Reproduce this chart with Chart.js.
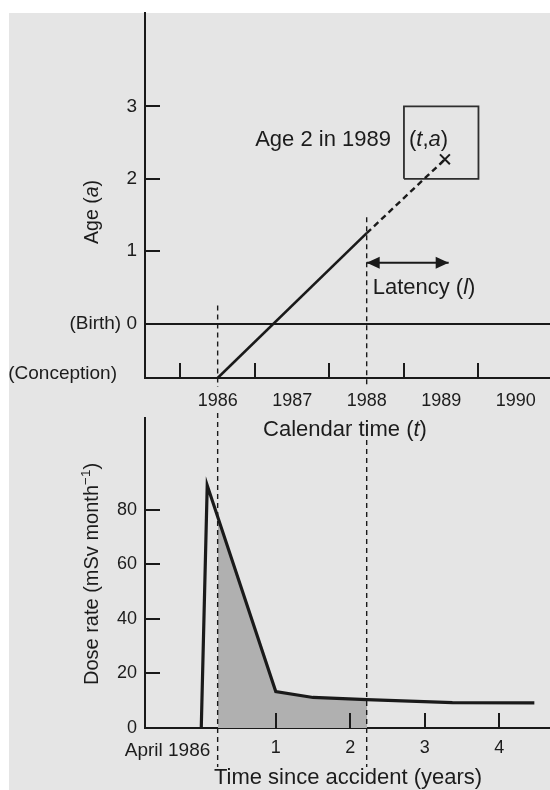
<!DOCTYPE html>
<html><head><meta charset="utf-8">
<script src="https://cdn.jsdelivr.net/npm/chart.js@4.4.1/dist/chart.umd.min.js"></script>
<style>
html,body{margin:0;padding:0;background:#fff;}
#page{position:absolute;left:0;top:0;width:550px;height:790px;overflow:hidden;background:#fff;}
#paper{position:absolute;left:9px;top:13px;right:0;bottom:0;background:#e5e5e5;}
#w1{position:absolute;left:0;top:-8px;width:600px;height:453px;}
#w2{position:absolute;left:0;top:398px;width:600px;height:392px;}
canvas{display:block;}
</style></head><body>
<div id="page"><div id="paper"></div>
<div id="w1"><canvas id="c1" width="600" height="453"></canvas></div>
<div id="w2"><canvas id="c2" width="600" height="392"></canvas></div>
</div>
<script>
// ---------------- data ----------------
const calendarYears = [1986, 1987, 1988, 1989, 1990];
const calendarLabels = ['1986', '1987', '1988', '1989', '1990'];
const ageTicks = [-0.75, 0, 1, 2, 3];
const ageLabels = ['(Conception)', '(Birth) 0', '1', '2', '3'];
const cohortTime = [1986.5, 1988.5, 1989.55];
const cohortAge = [-0.75, 1.25, 2.27];
const boxYears = [1989, 1990];
const boxAges = [2, 3];
const latencyYears = [1988.5, 1989.6];
const latencyAge = [0.84];
const exposureWindow = [1986.5, 1988.5];
const windowTopAge = [0.25, 1.47];

const accidentYear = 1986.28;
const doseTime = [0, 0.08, 1.0, 1.5, 2.22, 3.37, 4.47];
const doseRate = [0, 89, 13.4, 11.2, 10.4, 9.3, 9.2];
const doseTicks = [0, 20, 40, 60, 80];
const timeTicks = [0, 1, 2, 3, 4];
const timeLabels = ['April 1986', '1', '2', '3', '4'];

// ---------------- style ----------------
const FONT = '"Liberation Sans", Arial, Helvetica, sans-serif';
const INK = '#1a1a1a';
const TXT = '#1c1c1c';
const SHADE = '#b0b0b0';
const CLEAR = 'rgba(0,0,0,0)';
Chart.defaults.font.family = FONT;
Chart.defaults.color = TXT;

const T1 = -8, T2 = 398;           // page offsets of the two canvases
const calMin = 1985.525, calMax = 1990.96;
const P = (xs, ys) => xs.map((x, i) => ({x: x, y: ys[i]}));

function fontOf(size, italic) { return (italic ? 'italic ' : '') + size + 'px ' + FONT; }
function drawRich(ctx, segs, x, y, align, rotate) {
  ctx.save();
  ctx.translate(x, y);
  if (rotate) ctx.rotate(-Math.PI / 2);
  let w = 0;
  for (const s of segs) { ctx.font = fontOf(s.size, s.italic); w += ctx.measureText(s.text).width; }
  let cx = align === 'center' ? -w / 2 : (align === 'right' ? -w : 0);
  ctx.textBaseline = 'alphabetic'; ctx.textAlign = 'left'; ctx.fillStyle = TXT;
  for (const s of segs) {
    ctx.font = fontOf(s.size, s.italic);
    ctx.fillText(s.text, cx, s.dy || 0);
    cx += ctx.measureText(s.text).width;
  }
  ctx.restore();
}
function dashedV(ctx, x, y0, y1) {
  ctx.save(); ctx.strokeStyle = INK; ctx.lineWidth = 1.4; ctx.setLineDash([5, 4]);
  ctx.beginPath(); ctx.moveTo(x, y0); ctx.lineTo(x, y1); ctx.stroke(); ctx.restore();
}
function inwardTicks(chart, xs, ys) {
  const ctx = chart.ctx, a = chart.chartArea, sx = chart.scales.x, sy = chart.scales.y, L = 15;
  ctx.save(); ctx.strokeStyle = INK; ctx.lineWidth = 2; ctx.beginPath();
  xs.forEach(v => { const p = Math.round(sx.getPixelForValue(v)); ctx.moveTo(p, a.bottom); ctx.lineTo(p, a.bottom - L); });
  ys.forEach(v => { const p = Math.round(sy.getPixelForValue(v)); ctx.moveTo(a.left, p); ctx.lineTo(a.left + L, p); });
  ctx.stroke(); ctx.restore();
}
function arrowHead(ctx, x, y, dir) {
  ctx.beginPath(); ctx.moveTo(x, y); ctx.lineTo(x - dir * 13, y - 6); ctx.lineTo(x - dir * 13, y + 6); ctx.closePath(); ctx.fill();
}

// ---------------- top chart: age vs calendar time ----------------
const topDecor = {
  id: 'topDecor',
  afterDraw(chart) {
    const ctx = chart.ctx, a = chart.chartArea, sx = chart.scales.x, sy = chart.scales.y;
    inwardTicks(chart, calendarYears, ageTicks.filter(v => v > 0));
    // exposure-window dashed lines (interrupted by labels)
    const gapTop = a.bottom + 9, gapBot = a.bottom + 35;
    const x0 = sx.getPixelForValue(exposureWindow[0]), x1 = sx.getPixelForValue(exposureWindow[1]);
    dashedV(ctx, x0, sy.getPixelForValue(windowTopAge[0]), gapTop);
    dashedV(ctx, x0, gapBot, 440 - T1);
    dashedV(ctx, x1, sy.getPixelForValue(windowTopAge[1]), gapTop);
    // latency arrow heads
    const ly = sy.getPixelForValue(latencyAge[0]);
    const l0 = sx.getPixelForValue(latencyYears[0]), l1 = sx.getPixelForValue(latencyYears[1]);
    ctx.save(); ctx.fillStyle = INK; arrowHead(ctx, l0, ly, -1); arrowHead(ctx, l1, ly, 1); ctx.restore();
    // conception label
    drawRich(ctx, [{text: ageLabels[0], size: 19}], a.left - 28, sy.getPixelForValue(ageTicks[0]) + 0.5, 'right');
    // annotations
    const bx = sx.getPixelForValue(boxYears[0]), by = sy.getPixelForValue(boxAges[1]);
    drawRich(ctx, [{text: 'Age 2 in 1989', size: 22}], bx - 13, by + 40, 'right');
    drawRich(ctx, [{text: '(', size: 22}, {text: 't', size: 22, italic: true}, {text: ',', size: 22},
                   {text: 'a', size: 22, italic: true}, {text: ')', size: 22}], bx + 5, by + 40, 'left');
    drawRich(ctx, [{text: 'Latency (', size: 22}, {text: 'l', size: 22, italic: true}, {text: ')', size: 22}],
             l0 + 6, ly + 31, 'left');
    // axis titles
    drawRich(ctx, [{text: 'Age (', size: 19.5}, {text: 'a', size: 19.5, italic: true}, {text: ')', size: 19.5}],
             98, 212 - T1, 'center', true);
    drawRich(ctx, [{text: 'Calendar time (', size: 22}, {text: 't', size: 22, italic: true}, {text: ')', size: 22}],
             345, 436 - T1, 'center');
  }
};

const boxX = [boxYears[0], boxYears[1], boxYears[1], boxYears[0], boxYears[0]];
const boxY = [boxAges[0], boxAges[0], boxAges[1], boxAges[1], boxAges[0]];

new Chart(document.getElementById('c1'), {
  type: 'line',
  data: {
    datasets: [
      {data: P(cohortTime.slice(0, 2), cohortAge.slice(0, 2)), borderColor: INK, borderWidth: 2.6, pointRadius: 0},
      {data: P(cohortTime.slice(1), cohortAge.slice(1)), borderColor: INK, borderWidth: 2.4, borderDash: [6, 4], pointRadius: 0},
      {data: P(boxX, boxY), borderColor: '#2e2e2e', borderWidth: 1.8, pointRadius: 0, borderJoinStyle: 'miter'},
      {data: [{x: cohortTime[2], y: cohortAge[2]}], showLine: false, pointStyle: 'crossRot', pointRadius: 7,
       pointBorderColor: INK, pointBorderWidth: 2},
      {data: P(latencyYears, [latencyAge[0], latencyAge[0]]), borderColor: INK, borderWidth: 2, pointRadius: 0}
    ]
  },
  options: {
    responsive: false, animation: false, events: [],
    layout: {padding: {top: 13 - T1, left: 0, right: 50, bottom: 0}},
    plugins: {legend: {display: false}, tooltip: {enabled: false}},
    scales: {
      x: {
        type: 'linear', min: calMin, max: calMax,
        afterBuildTicks: s => { s.ticks = calendarYears.map(v => ({value: v + 0.5})); },
        ticks: {callback: (v, i) => calendarLabels[i], autoSkip: false, maxRotation: 0, padding: 12,
                font: {size: 18}, color: TXT},
        grid: {display: false, drawTicks: false},
        border: {display: true, color: INK, width: 2},
        afterFit: s => { s.height = 453 - (378 - T1); }
      },
      y: {
        type: 'linear', min: ageTicks[0], max: 4.29,
        afterBuildTicks: s => { s.ticks = ageTicks.map(v => ({value: v})); },
        ticks: {callback: (v, i) => (i === 0 ? '' : ageLabels[i]), autoSkip: false, padding: 8,
                font: {size: 19}, color: TXT},
        grid: {drawTicks: false, lineWidth: 2,
               color: c => (c.tick && c.tick.value === 0 ? INK : CLEAR)},
        border: {display: true, color: INK, width: 2},
        afterFit: s => { s.width = 145; }
      }
    }
  },
  plugins: [topDecor]
});

// ---------------- bottom chart: dose rate vs time since accident ----------------
const botDecor = {
  id: 'botDecor',
  afterDraw(chart) {
    const ctx = chart.ctx, a = chart.chartArea, sx = chart.scales.x;
    inwardTicks(chart, timeTicks.filter(v => v > 0), doseTicks.filter(v => v > 0));
    exposureWindow.forEach(v => dashedV(ctx, sx.getPixelForValue(v - accidentYear), 440 - T2, 767 - T2));
    drawRich(ctx, [{text: timeLabels[0], size: 19}], sx.getPixelForValue(timeTicks[0]) + 9, a.bottom + 27.5, 'right');
    drawRich(ctx, [{text: 'Dose rate (mSv month', size: 20}, {text: '\u22121', size: 13.5, dy: -8}, {text: ')', size: 20}],
             98, 574 - T2, 'center', true);
    drawRich(ctx, [{text: 'Time since accident (years)', size: 22}], 348, 783.5 - T2, 'center');
  }
};

new Chart(document.getElementById('c2'), {
  type: 'line',
  data: {
    datasets: [{
      data: P(doseTime, doseRate), borderColor: INK, borderWidth: 3.2, pointRadius: 0, tension: 0,
      borderJoinStyle: 'miter', fill: 'origin',
      backgroundColor: c => {
        const ch = c.chart, area = ch.chartArea, xs = ch.scales.x;
        if (!area || !xs) return CLEAR;
        const pa = xs.getPixelForValue(exposureWindow[0] - accidentYear);
        const pb = xs.getPixelForValue(exposureWindow[1] - accidentYear);
        const f = p => Math.min(1, Math.max(0, (p - area.left) / (area.right - area.left)));
        const g = ch.ctx.createLinearGradient(area.left, 0, area.right, 0);
        g.addColorStop(0, CLEAR); g.addColorStop(f(pa), CLEAR); g.addColorStop(f(pa), SHADE);
        g.addColorStop(f(pb), SHADE); g.addColorStop(f(pb), CLEAR); g.addColorStop(1, CLEAR);
        return g;
      }
    }]
  },
  options: {
    responsive: false, animation: false, events: [],
    layout: {padding: {top: 418 - T2, left: 0, right: 50, bottom: 0}},
    plugins: {legend: {display: false}, tooltip: {enabled: false}},
    scales: {
      x: {
        type: 'linear', min: calMin - accidentYear, max: calMax - accidentYear,
        afterBuildTicks: s => { s.ticks = timeTicks.map(v => ({value: v})); },
        ticks: {callback: (v, i) => (i === 0 ? '' : timeLabels[i]), autoSkip: false, maxRotation: 0, padding: 9,
                font: {size: 18}, color: TXT},
        grid: {display: false, drawTicks: false},
        border: {display: true, color: INK, width: 2},
        afterFit: s => { s.height = 392 - (728 - T2); }
      },
      y: {
        type: 'linear', min: 0, max: 113.7,
        afterBuildTicks: s => { s.ticks = doseTicks.map(v => ({value: v})); },
        ticks: {autoSkip: false, padding: 8, font: {size: 18}, color: TXT},
        grid: {display: false, drawTicks: false},
        border: {display: true, color: INK, width: 2},
        afterFit: s => { s.width = 145; }
      }
    }
  },
  plugins: [botDecor]
});
</script>
</body></html>
